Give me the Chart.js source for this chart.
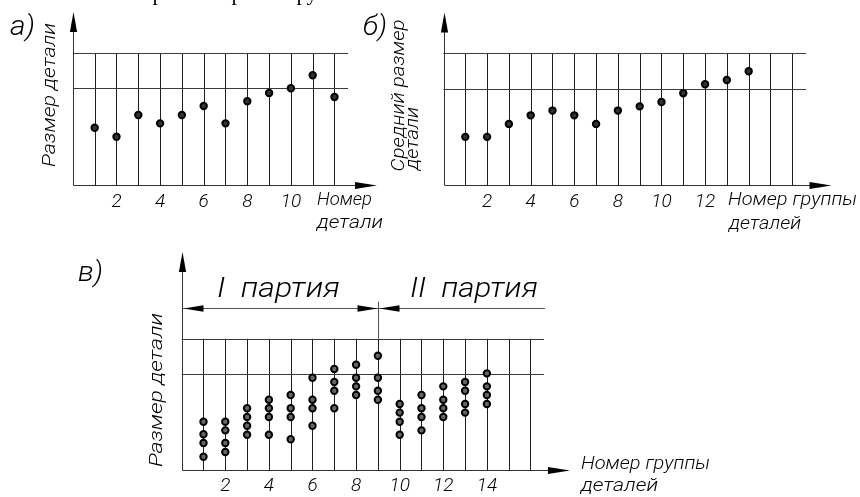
<!DOCTYPE html>
<html>
<head>
<meta charset="utf-8">
<script src="https://cdn.jsdelivr.net/npm/chart.js@4.4.1/dist/chart.umd.min.js"></script>
<style>
html,body{margin:0;padding:0;background:#fff;}
#wrap{position:relative;width:860px;height:497px;overflow:hidden;background:#fff;}
#wrap canvas{position:absolute;left:0;top:0;}
</style>
</head>
<body>
<div id="wrap">
<canvas id="chartA" width="860" height="497"></canvas>
<canvas id="chartB" width="860" height="497"></canvas>
<canvas id="chartC" width="860" height="497"></canvas>
</div>
<script>
// ---------- data ----------
const partsA = [1,2,3,4,5,6,7,8,9,10,11,12];
const sizesA = [4.34, 3.66, 5.30, 4.67, 5.30, 5.98, 4.67, 6.34, 6.97, 7.33, 8.31, 6.67];
const tickLabelsA = ['2','4','6','8','10'];

const groupsB = [1,2,3,4,5,6,7,8,9,10,11,12,13,14,15,16];
const meanSizesB = [3.67, 3.67, 4.65, 5.30, 5.66, 5.30, 4.65, 5.66, 5.98, 6.31, 6.97, 7.66, 7.98, 8.64];
const tickLabelsB = ['2','4','6','8','10','12'];

const groupsC = [1,2,3,4,5,6,7,8,9,10,11,12,13,14,15,16];
const sizesC = [
  [3.68, 2.72, 2.06, 1.01],
  [3.68, 3.02, 2.06, 1.37],
  [4.70, 4.04, 3.37, 2.69],
  [5.35, 4.70, 4.04, 2.69],
  [5.71, 4.70, 4.04, 2.34],
  [7.03, 5.35, 4.70, 3.37],
  [7.69, 6.70, 6.04, 4.70],
  [8.02, 7.03, 6.37, 5.71],
  [8.70, 7.03, 6.04, 5.35],
  [5.03, 4.37, 3.68, 2.69],
  [5.71, 4.70, 4.04, 3.02],
  [6.37, 5.35, 4.70, 4.04],
  [6.70, 6.04, 5.03, 4.37],
  [7.36, 6.37, 5.71, 5.03]
];
const tickLabelsC = ['2','4','6','8','10','12','14'];
const batchSplit = 9;          // boundary between I and II batch (group number)
const lowerLimit = 7.33;
const upperLimit = 10;

// ---------- drawing helpers ----------
const FAMILY = 'Roboto, "DejaVu Sans", sans-serif';
const WEIGHT = 300;

function line(ctx, x1, y1, x2, y2) {
  ctx.beginPath(); ctx.moveTo(x1, y1); ctx.lineTo(x2, y2); ctx.stroke();
}
function arrow(ctx, tx, ty, dx, dy, len, hw) {
  const bx = tx - dx * len, by = ty - dy * len;
  const px = -dy, py = dx;
  ctx.beginPath();
  ctx.moveTo(tx, ty);
  ctx.lineTo(bx + px * hw, by + py * hw);
  ctx.lineTo(bx - px * hw, by - py * hw);
  ctx.closePath();
  ctx.fill();
}
function fitText(ctx, t) {
  ctx.save();
  ctx.font = 'italic ' + WEIGHT + ' ' + t.size + 'px ' + FAMILY;
  ctx.textBaseline = 'middle';
  ctx.textAlign = 'left';
  ctx.fillStyle = '#000';
  ctx.translate(t.x, t.y);
  if (t.rot) ctx.rotate(-Math.PI / 2);
  if (t.w) { const w = ctx.measureText(t.t).width; ctx.scale(t.w / w, 1); }
  ctx.fillText(t.t, 0, 0);
  ctx.restore();
}

const sketch = {
  id: 'sketch',
  beforeDatasetsDraw(chart, args, o) {
    const ctx = chart.ctx, xs = chart.scales.x, ys = chart.scales.y;
    const X = v => xs.getPixelForValue(v), Y = v => ys.getPixelForValue(v);
    const crisp = v => Math.round(v) + 0.5;
    ctx.save();
    ctx.lineWidth = 1;
    // vertical group lines
    ctx.strokeStyle = '#1e1e1e';
    for (const c of o.gridX) { const x = crisp(X(c)); line(ctx, x, Y(0), x, Y(upperLimit)); }
    // tolerance lines
    ctx.strokeStyle = '#3c3c3c';
    for (const v of [lowerLimit, upperLimit]) { const y = crisp(Y(v)); line(ctx, X(0), y, X(o.xEnd), y); }
    // axes
    ctx.strokeStyle = '#333';
    ctx.fillStyle = '#000';
    const ox = crisp(X(0)), oy = crisp(Y(0));
    line(ctx, ox, oy, ox, Y(o.yTip) + 10);
    arrow(ctx, ox, Y(o.yTip), 0, -1, 20, 3.6);
    line(ctx, ox, oy, X(o.xTip) - 10, oy);
    arrow(ctx, X(o.xTip), oy, 1, 0, 22, 3.6);
    // dimension line for batches
    if (o.dim) {
      const d = o.dim, y = crisp(Y(d.y)), sx = crisp(X(d.split));
      ctx.strokeStyle = '#555';
      line(ctx, ox, y, X(d.xEnd), y);
      line(ctx, sx, Y(d.tickTop), sx, Y(upperLimit));
      ctx.fillStyle = '#000';
      arrow(ctx, ox + 1, y, -1, 0, 20, 3.2);
      arrow(ctx, sx - 1, y, 1, 0, 20, 3.2);
      arrow(ctx, sx + 1, y, -1, 0, 20, 3.2);
    }
    // tick labels
    ctx.fillStyle = '#000';
    ctx.font = 'italic ' + WEIGHT + ' 19px ' + FAMILY;
    ctx.textAlign = 'center';
    ctx.textBaseline = 'middle';
    for (const lab of o.ticks) ctx.fillText(lab, X(Number(lab)), Y(0) + o.tickDy);
    // texts
    for (const t of o.texts) fitText(ctx, t);
    // cropped remnants of a caption line above the figure
    if (o.fragments) {
      ctx.font = '22px "Liberation Serif", "Times New Roman", serif';
      ctx.textBaseline = 'alphabetic';
      ctx.textAlign = 'center';
      for (const f of o.fragments) ctx.fillText(f.t, f.x, f.y);
    }
    ctx.restore();
  }
};

function makeChart(id, points, padding, xMax, sketchOpts, pointBg) {
  return new Chart(document.getElementById(id), {
    type: 'scatter',
    data: { datasets: [{
      data: points,
      pointRadius: 3.2,
      pointBackgroundColor: pointBg,
      pointBorderColor: '#000',
      pointBorderWidth: 2,
      showLine: false,
      clip: false
    }] },
    options: {
      responsive: false,
      animation: false,
      events: [],
      layout: { padding: padding },
      scales: {
        x: { type: 'linear', min: 0, max: xMax, display: false },
        y: { type: 'linear', min: 0, max: upperLimit, display: false }
      },
      plugins: { legend: { display: false }, tooltip: { enabled: false }, sketch: sketchOpts }
    },
    plugins: [sketch]
  });
}

// ---------- chart a ----------
makeChart('chartA',
  partsA.map((p, i) => ({ x: p, y: sizesA[i] })),
  { left: 72.9, right: 512, top: 53, bottom: 312 }, 12.62,
  {
    gridX: partsA, xEnd: 12.62, yTip: 13.1, xTip: 13.95,
    ticks: tickLabelsA, tickDy: 17,
    texts: [
      { t: 'а)', x: 10, y: 28, size: 27, w: 25 },
      { t: 'Размер детали', x: 50, y: 167, size: 19, w: 144, rot: true },
      { t: 'Номер', x: 317, y: 200, size: 19, w: 55 },
      { t: 'детали', x: 317, y: 223, size: 19, w: 66 }
    ],
    fragments: [
      { t: 'р', x: 158, y: 0 }, { t: 'р', x: 237, y: 0 },
      { t: 'р', x: 302, y: 0 }, { t: 'у', x: 312, y: 0 }
    ]
  }, '#333');

// ---------- chart б ----------
makeChart('chartB',
  meanSizesB.map((v, i) => ({ x: groupsB[i], y: v })),
  { left: 443.5, right: 54, top: 53.3, bottom: 311.7 }, 16.63,
  {
    gridX: groupsB, xEnd: 16.63, yTip: 13.1, xTip: 17.8,
    ticks: tickLabelsB, tickDy: 17,
    texts: [
      { t: 'б)', x: 363, y: 28, size: 27, w: 24 },
      { t: 'Средний размер', x: 399.5, y: 171.5, size: 19, w: 152, rot: true },
      { t: 'детали', x: 413, y: 170, size: 19, w: 63, rot: true },
      { t: 'Номер группы', x: 728, y: 200, size: 19, w: 129 },
      { t: 'деталей', x: 729, y: 224, size: 19, w: 72 }
    ]
  }, '#333');

// ---------- chart в ----------
const pointsC = [];
sizesC.forEach((vals, i) => vals.forEach(v => pointsC.push({ x: groupsC[i], y: v })));
makeChart('chartC',
  pointsC,
  { left: 181.7, right: 316, top: 338.7, bottom: 27 }, 16.62,
  {
    gridX: groupsC, xEnd: 16.62, yTip: 16.6, xTip: 17.81,
    ticks: tickLabelsC, tickDy: 16,
    dim: { y: 12.31, split: batchSplit, tickTop: 12.82, xEnd: 16.67 },
    texts: [
      { t: 'в)', x: 78, y: 274, size: 27, w: 25 },
      { t: 'Размер детали', x: 157, y: 467, size: 19, w: 154, rot: true },
      { t: 'I  партия', x: 217, y: 290, size: 28, w: 123 },
      { t: 'II  партия', x: 410, y: 290, size: 28, w: 128 },
      { t: 'Номер группы', x: 581, y: 464, size: 19, w: 129 },
      { t: 'деталей', x: 581, y: 486, size: 19, w: 77 }
    ]
  }, '#666');
</script>
</body>
</html>
